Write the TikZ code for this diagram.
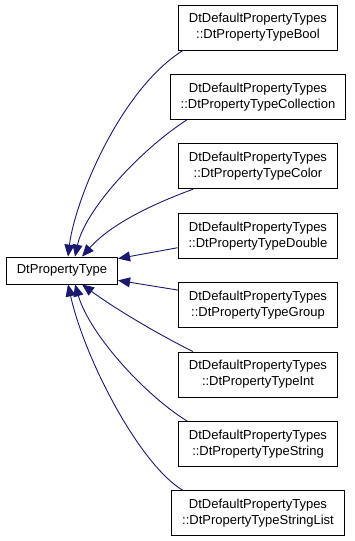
\documentclass[tikz,border=0pt]{standalone}
\usepackage{fontspec}
\setmainfont{Liberation Sans}
\usetikzlibrary{arrows.meta}
\definecolor{edgeblue}{HTML}{191970}

\begin{document}
\begin{tikzpicture}[x=1pt,y=-1pt,
    cls/.style={draw=black,line width=0.8pt,fill=white,align=center,
      font=\fontsize{13}{16}\selectfont,inner xsep=10.5pt,minimum height=45pt},
    inherit/.style={edgeblue,line width=0.9pt,-{Triangle[length=12pt,width=10pt]}}]
  \useasboundingbox (0,0) rectangle (355,541);

  % base class
  \node[cls,minimum height=27pt] (base) at (62,270.5) {DtPropertyType};

  % derived classes
  \foreach \name [count=\i] in {Bool,Collection,Color,Double,Group,Int,String,StringList} {
    \node[cls] (\name) at (258,{27.5+69.4*(\i-1)}) {DtDefaultPropertyTypes\\::DtPropertyType\name};
  }

  % inheritance edges (upper half)
  \draw[inherit] ([xshift=-75pt]Bool.south) .. controls (120,90) and (75,200) .. ([xshift=6pt]base.north);
  \draw[inherit] ([xshift=-71pt]Collection.south) .. controls (140,150) and (85,210) .. ([xshift=13pt]base.north);
  \draw[inherit] ([xshift=-65pt]Color.south) .. controls (150,205) and (110,225) .. ([xshift=20pt]base.north);
  \draw[inherit] ([yshift=-12pt]Double.west) -- ([yshift=-2pt]base.north east);

  % inheritance edges (lower half)
  \draw[inherit] ([yshift=15pt]Group.west) -- ([yshift=4pt]base.south east);
  \draw[inherit] ([xshift=-65pt]Int.north) .. controls (150,330) and (110,305) .. ([xshift=20pt]base.south);
  \draw[inherit] ([xshift=-71pt]String.north) .. controls (145,395) and (90,335) .. ([xshift=13pt]base.south);
  \draw[inherit] ([xshift=-75pt]StringList.north) .. controls (140,465) and (85,360) .. ([xshift=6pt]base.south);
\end{tikzpicture}
\end{document}
